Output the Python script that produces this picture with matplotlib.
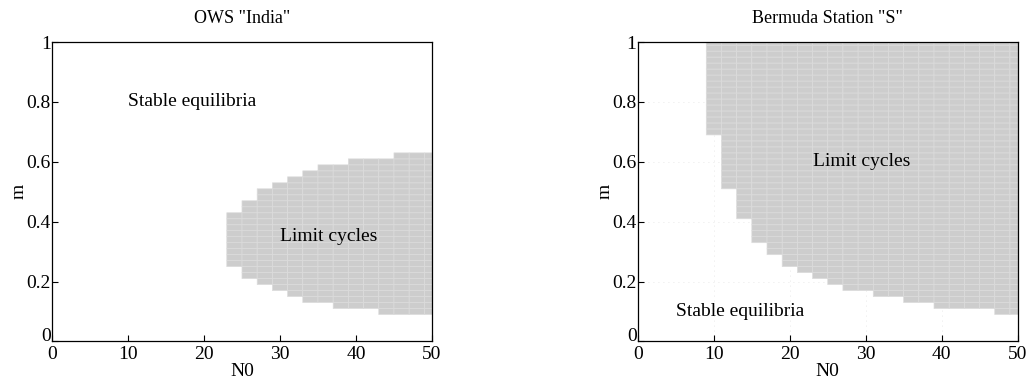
import numpy as np
import matplotlib
matplotlib.use("Agg")
import matplotlib.pyplot as plt
from matplotlib.colors import ListedColormap

plt.rcParams['font.family'] = ['Liberation Serif', 'DejaVu Serif']
plt.rcParams['font.size'] = 14

# Parameter grid: initial nutrient N0 (step 2) and mortality m (step 0.02)
n0_grid = np.arange(0, 52, 2)
m_grid = np.round(np.arange(0, 1.02, 0.02), 2)

# OWS "India": N0 columns with limit cycles, and the lowest / highest m of the cycling band
india_n0 = [24, 26, 28, 30, 32, 34, 36, 38, 40, 42, 44, 46, 48, 50]
india_m_low = [0.26, 0.22, 0.20, 0.18, 0.16, 0.14, 0.14, 0.12, 0.12, 0.12, 0.10, 0.10, 0.10, 0.10]
india_m_high = [0.42, 0.46, 0.50, 0.52, 0.54, 0.56, 0.58, 0.58, 0.60, 0.60, 0.60, 0.62, 0.62, 0.62]

# Bermuda Station "S": limit cycles from the lowest m up to m = 1
bermuda_n0 = [10, 12, 14, 16, 18, 20, 22, 24, 26, 28, 30, 32, 34, 36, 38, 40, 42, 44, 46, 48, 50]
bermuda_m_low = [0.70, 0.52, 0.42, 0.34, 0.30, 0.26, 0.24, 0.22, 0.20, 0.18, 0.18, 0.16, 0.16,
                 0.14, 0.14, 0.12, 0.12, 0.12, 0.12, 0.10, 0.10]
bermuda_m_high = [1.00] * len(bermuda_n0)

x_ticks = [0, 10, 20, 30, 40, 50]
y_ticks = [0, 0.2, 0.4, 0.6, 0.8, 1]
y_ticklabels = ["0", "0.2", "0.4", "0.6", "0.8", "1"]


def regime_map(n0_cols, m_low, m_high):
    grid = np.zeros((len(m_grid), len(n0_grid)))
    for n0, lo, hi in zip(n0_cols, m_low, m_high):
        j = int(np.where(n0_grid == n0)[0][0])
        grid[(m_grid >= lo - 1e-9) & (m_grid <= hi + 1e-9), j] = 1
    return np.ma.masked_equal(grid, 0)


def draw_panel(ax, title, n0_cols, m_low, m_high, labels, grid=False):
    x_edges = np.append(n0_grid - 1, n0_grid[-1] + 1)
    y_edges = np.append(m_grid - 0.01, m_grid[-1] + 0.01)
    if grid:
        ax.grid(True, linestyle=(0, (1, 5)), color='#e2e2e2', linewidth=0.6)
        ax.set_axisbelow(True)
    ax.pcolor(x_edges, y_edges, regime_map(n0_cols, m_low, m_high),
              cmap=ListedColormap(['#cdcdcd']), edgecolors='#dcdcdc',
              linewidth=0.5, zorder=2)
    ax.set_xlim(0, 50)
    ax.set_ylim(0, 1)
    ax.set_xticks(x_ticks)
    ax.set_yticks(y_ticks)
    ax.set_yticklabels(y_ticklabels)
    ax.tick_params(direction='in', length=4, width=0.8, pad=1,
                   top=False, right=False, labelsize=14)
    ax.tick_params(axis='x', pad=3)
    ax.yaxis.get_major_ticks()[0].label1.set_verticalalignment('baseline')
    ax.set_title(title, fontsize=13, pad=14)
    ax.set_xlabel("N0", fontsize=14, labelpad=0)
    ax.set_ylabel("m", fontsize=14, labelpad=-1)
    for s in ax.spines.values():
        s.set_linewidth(0.9)
        s.set_zorder(5)
    for (x, y, t) in labels:
        ax.text(x, y, t, ha='left', va='center', fontsize=14, zorder=4)


fig = plt.figure(figsize=(10.28, 3.78), dpi=100)
ax1 = fig.add_axes([0.0506, 0.0966, 0.3696, 0.792])
ax2 = fig.add_axes([0.6206, 0.0966, 0.3692, 0.792])

draw_panel(ax1, 'OWS "India"', india_n0, india_m_low, india_m_high,
           [(10, 0.8, "Stable equilibria"), (30, 0.35, "Limit cycles")])
draw_panel(ax2, 'Bermuda Station "S"', bermuda_n0, bermuda_m_low, bermuda_m_high,
           [(23, 0.6, "Limit cycles"), (5, 0.1, "Stable equilibria")], grid=True)

fig.savefig("out.png", dpi=100)
